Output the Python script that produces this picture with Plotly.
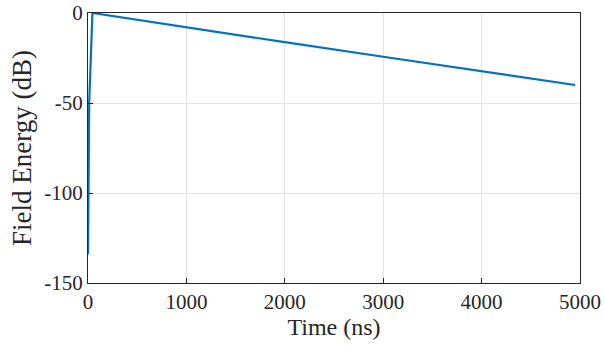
import plotly.graph_objects as go

time_ns = [0, 3, 12, 45, 1000, 2000, 3000, 4000, 4950]
energy_db = [-134, -100, -50, 0, -8.1, -16.2, -24.3, -32.3, -40]

x_ticks = [0, 1000, 2000, 3000, 4000, 5000]
x_labels = ["0", "1000", "2000", "3000", "4000", "5000"]
y_ticks = [-150, -100, -50, 0]
y_labels = ["-150", "-100", "-50", "0"]

FONT = "Liberation Serif"

fig = go.Figure()
fig.add_trace(go.Scatter(x=time_ns, y=energy_db, mode="lines",
                         line=dict(color="#0072BD", width=2.2)))

axis_common = dict(showline=True, mirror=True, linecolor="#262626", linewidth=1,
                   ticks="inside", ticklen=5, tickcolor="#262626",
                   showgrid=True, gridcolor="#e3e3e3", gridwidth=1, zeroline=False,
                   ticklabeloverflow="allow",
                   tickfont=dict(family=FONT, size=21, color="#262626"))

fig.update_layout(
    width=605, height=352,
    margin=dict(l=88, r=25, t=13, b=69, autoexpand=False),
    paper_bgcolor="white", plot_bgcolor="white",
    showlegend=False,
    xaxis=dict(range=[0, 5000], tickvals=x_ticks, ticktext=x_labels, automargin=False,
               title=dict(text="Time (ns)", font=dict(family=FONT, size=24, color="#262626"), standoff=2),
               **axis_common),
    yaxis=dict(range=[-150, 0], tickvals=y_ticks, ticktext=y_labels, automargin=False,
               title=dict(text="Field Energy (dB)", font=dict(family=FONT, size=27, color="#262626"), standoff=4),
               **axis_common),
)
fig.write_html("out.html")
